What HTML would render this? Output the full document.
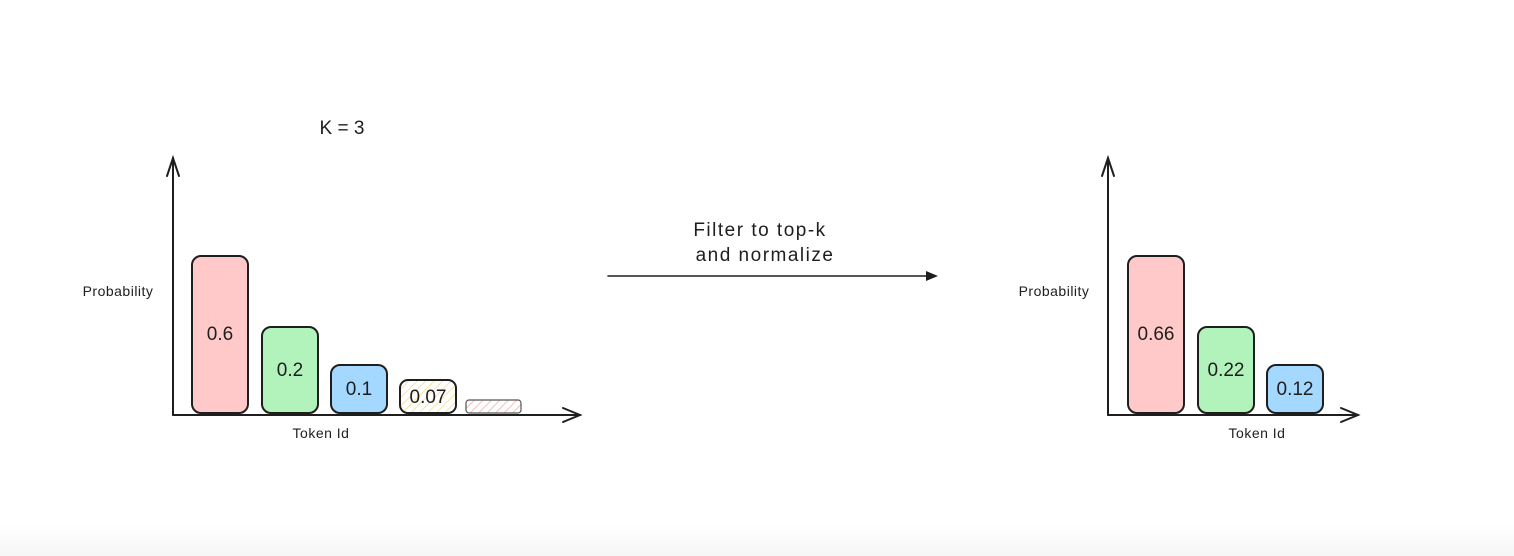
<!DOCTYPE html>
<html><head><meta charset="utf-8"><style>
html,body{margin:0;padding:0;width:1514px;height:556px;overflow:hidden;background:#fff}
svg{display:block}
text{font-family:"Liberation Sans",sans-serif;fill:#1e1e1e}
</style></head><body>
<svg width="1514" height="556" viewBox="0 0 1514 556">
<defs>
<linearGradient id="bot" x1="0" y1="0" x2="0" y2="1"><stop offset="0" stop-color="#fff"/><stop offset="1" stop-color="#f6f6f6"/></linearGradient>
<pattern id="hy" width="6" height="6" patternUnits="userSpaceOnUse" patternTransform="rotate(45)"><line x1="0" y1="0" x2="0" y2="6" stroke="#f5d98a" stroke-width="1.5"/></pattern>
<pattern id="hr" width="6" height="6" patternUnits="userSpaceOnUse" patternTransform="rotate(45)"><line x1="0" y1="0" x2="0" y2="6" stroke="#f2a8a8" stroke-width="1.5"/></pattern>
</defs>
<rect x="0" y="525" width="1514" height="31" fill="url(#bot)"/>
<g stroke="#1e1e1e" stroke-width="2" fill="none" stroke-linecap="round">
<line x1="173" y1="158" x2="173" y2="415"/>
<polyline points="167,176 173,158 179,176"/>
<line x1="173" y1="415" x2="580" y2="415"/>
<polyline points="563,408 580,415 563,422"/>
<line x1="1108" y1="158" x2="1108" y2="415"/>
<polyline points="1102,176 1108,158 1114,176"/>
<line x1="1108" y1="415" x2="1358" y2="415"/>
<polyline points="1341,408 1358,415 1341,422"/>
<line x1="608" y1="276" x2="930" y2="276" stroke-width="1.5"/>
</g>
<polygon points="926,271 938,276 926,281" fill="#1e1e1e"/>
<g stroke="#1e1e1e" stroke-width="2">
<rect x="192" y="256" width="56" height="157" rx="9" fill="#ffc9c9"/>
<rect x="262" y="327" width="56" height="86" rx="9" fill="#b2f2bb"/>
<rect x="331" y="365" width="56" height="48" rx="9" fill="#a5d8ff"/>
<rect x="400" y="380" width="56" height="33" rx="8" fill="url(#hy)"/>
<rect x="466" y="400" width="55" height="13" rx="3" fill="url(#hr)" stroke="#555" stroke-width="1.2"/>
<rect x="1128" y="256" width="56" height="157" rx="9" fill="#ffc9c9"/>
<rect x="1198" y="327" width="56" height="86" rx="9" fill="#b2f2bb"/>
<rect x="1267" y="365" width="56" height="48" rx="9" fill="#a5d8ff"/>
</g>
<g font-size="19" text-anchor="middle">
<text x="220" y="340">0.6</text>
<text x="290" y="376">0.2</text>
<text x="359" y="395">0.1</text>
<text x="428" y="403">0.07</text>
<text x="1156" y="340">0.66</text>
<text x="1226" y="376">0.22</text>
<text x="1295" y="395">0.12</text>
<text x="342" y="134">K = 3</text>
</g>
<g font-size="19" text-anchor="middle" letter-spacing="1.5">
<text x="760" y="236">Filter to top-k</text>
<text x="765" y="261">and normalize</text>
</g>
<g font-size="14" text-anchor="middle" letter-spacing="0.5">
<text x="118" y="296">Probability</text>
<text x="1054" y="296">Probability</text>
<text x="321" y="438">Token Id</text>
<text x="1257" y="438">Token Id</text>
</g>
</svg>
</body></html>
